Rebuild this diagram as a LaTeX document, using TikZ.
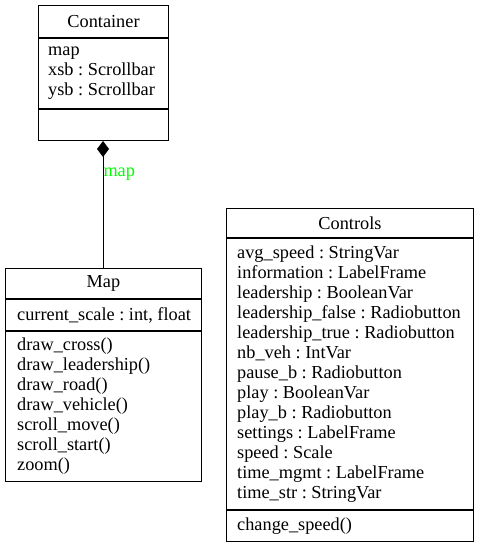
\documentclass[tikz,border=0pt]{standalone}
\usepackage{fontspec}
\setmainfont{Liberation Serif}
\usetikzlibrary{arrows.meta}
\definecolor{lblgreen}{RGB}{0,255,0}
\begin{document}
\begin{tikzpicture}[x=1pt,y=-1pt,
  comp/.style={draw, line width=1pt, rectangle, anchor=north west, inner sep=0pt},
  hdr/.style={comp, font=\frenchspacing\fontsize{18.3}{20}\selectfont},
  txt/.style={anchor=west, align=left, inner sep=0pt, font=\frenchspacing\fontsize{18.3}{20}\selectfont},
  compo/.style={line width=1pt, {Diamond[width=12pt,length=16pt]}-},
  rolelbl/.style={font=\fontsize{18.3}{20}\selectfont, text=lblgreen, anchor=west, inner xsep=0pt, inner ysep=0pt}]
\useasboundingbox (0,0) rectangle (479,545);
\fill[white] (0,0) rectangle (479,545);
% Container
\node[hdr, minimum width=130pt, minimum height=32pt] (cH) at (38,5) {Container};
\node[comp, minimum width=130pt, minimum height=70pt] (cA) at (cH.south west) {};
\node[comp, minimum width=130pt, minimum height=31pt] (cM) at (cA.south west) {};
\node[txt] (cAt) at ([xshift=10pt]cA.west) {map\\xsb : Scrollbar\\ysb : Scrollbar};
% Map
\node[hdr, minimum width=196pt, minimum height=30pt] (mH) at (5,268) {Map};
\node[comp, minimum width=196pt, minimum height=31pt] (mA) at (mH.south west) {};
\node[comp, minimum width=196pt, minimum height=150pt] (mM) at (mA.south west) {};
\node[txt] (mAt) at ([xshift=12pt]mA.west) {current\_scale : int, float};
\node[txt] (mMt) at ([xshift=12pt]mM.west) {draw\_cross()\\draw\_leadership()\\draw\_road()\\draw\_vehicle()\\scroll\_move()\\scroll\_start()\\zoom()};
% Controls
\node[hdr, minimum width=247pt, minimum height=29pt] (kH) at (226,208) {Controls};
\node[comp, minimum width=247pt, minimum height=271pt] (kA) at (kH.south west) {};
\node[comp, minimum width=247pt, minimum height=31pt] (kM) at (kA.south west) {};
\node[txt] (kAt) at ([xshift=11pt]kA.west) {avg\_speed : StringVar\\information : LabelFrame\\leadership : BooleanVar\\leadership\_false : Radiobutton\\leadership\_true : Radiobutton\\nb\_veh : IntVar\\pause\_b : Radiobutton\\play : BooleanVar\\play\_b : Radiobutton\\settings : LabelFrame\\speed : Scale\\time\_mgmt : LabelFrame\\time\_str : StringVar};
\node[txt] (kMt) at ([xshift=11pt]kM.west) {change\_speed()};
% composition
\coordinate (cB) at (cM.south -| 103,0);
\coordinate (mT) at (mH.north -| 103,0);
\draw[compo] (cB) -- node[rolelbl, pos=0.26] (lbl) {map} (mT);
\end{tikzpicture}
\end{document}
